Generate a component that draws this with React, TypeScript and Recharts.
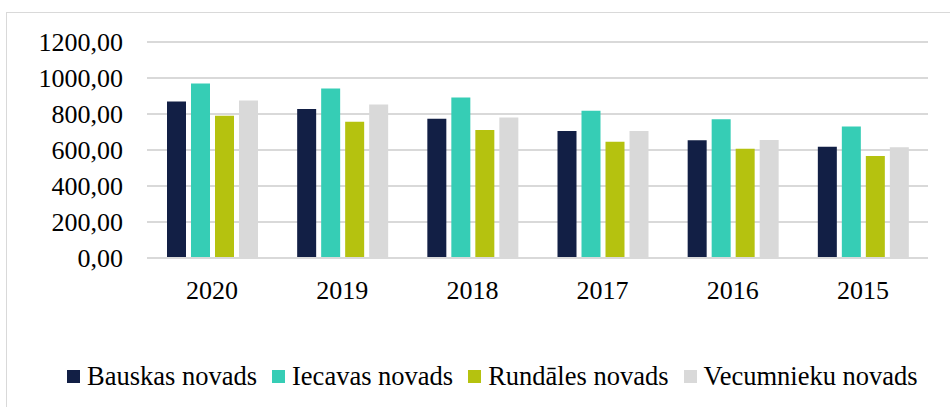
import { Bar, BarChart, CartesianGrid, XAxis, YAxis } from "recharts";

const years = ["2020", "2019", "2018", "2017", "2016", "2015"];
const bauskas = [870, 828, 774, 706, 654, 618];
const iecavas = [970, 942, 891, 818, 771, 730];
const rundales = [790, 757, 711, 646, 607, 567];
const vecumnieku = [875, 853, 780, 706, 656, 615];
const yTicks = [0, 200, 400, 600, 800, 1000, 1200];

const SERIES = [
  { key: "bauskas", name: "Bauskas novads", color: "#121f45" },
  { key: "iecavas", name: "Iecavas novads", color: "#36cdb5" },
  { key: "rundales", name: "Rundāles novads", color: "#b5c20f" },
  { key: "vecumnieku", name: "Vecumnieku novads", color: "#d9d9d9" },
];

const data = years.map((year, i) => ({
  year,
  bauskas: bauskas[i],
  iecavas: iecavas[i],
  rundales: rundales[i],
  vecumnieku: vecumnieku[i],
}));

const FONT = "'Liberation Serif', serif";
const fmt = (v: number) => v.toFixed(2).replace(".", ",");

export default function App() {
  return (
    <div
      className="chart-root"
      style={{
        position: "absolute",
        left: 0,
        top: 0,
        width: 950,
        height: 407,
        overflow: "hidden",
        background: "#fff",
      }}
    >
      <style>{`.chart-root, .chart-root * { font-family: 'Liberation Serif', serif !important; }`}</style>
      <div
        style={{
          position: "absolute",
          left: 6,
          top: 12,
          width: 960,
          height: 420,
          border: "1px solid #d9d9d9",
          boxSizing: "border-box",
        }}
      />
      <BarChart
        width={950}
        height={407}
        data={data}
        margin={{ top: 42, right: 22, bottom: 0, left: 0 }}
        barCategoryGap={20}
        barGap={5}
        style={{ position: "absolute", left: 0, top: 0 }}
      >
        <CartesianGrid vertical={false} stroke="#d9d9d9" strokeWidth={2} />
        <XAxis
          dataKey="year"
          height={149}
          tickSize={0}
          tickMargin={23}
          axisLine={{ stroke: "#d9d9d9", strokeWidth: 2 }}
          tickLine={false}
          tick={{ fill: "#000", fontSize: 26, fontFamily: FONT }}
        />
        <YAxis
          width={147}
          domain={[0, 1200]}
          ticks={yTicks}
          tickFormatter={fmt}
          axisLine={false}
          tickLine={false}
          tickSize={0}
          tickMargin={24}
          tick={{ fill: "#000", fontSize: 26, fontFamily: FONT }}
        />
        {SERIES.map((s) => (
          <Bar
            key={s.key}
            dataKey={s.key}
            name={s.name}
            fill={s.color}
            isAnimationActive={false}
          />
        ))}
      </BarChart>
      <div
        style={{
          position: "absolute",
          left: 67,
          top: 361,
          display: "flex",
          alignItems: "center",
          fontSize: 26.5,
          color: "#000",
          whiteSpace: "nowrap",
        }}
      >
        {SERIES.map((s) => (
          <div
            key={s.key}
            style={{ display: "flex", alignItems: "center", marginRight: 15 }}
          >
            <span
              style={{
                display: "inline-block",
                width: 13,
                height: 13,
                background: s.color,
                marginRight: 7,
              }}
            />
            <span>{s.name}</span>
          </div>
        ))}
      </div>
    </div>
  );
}
